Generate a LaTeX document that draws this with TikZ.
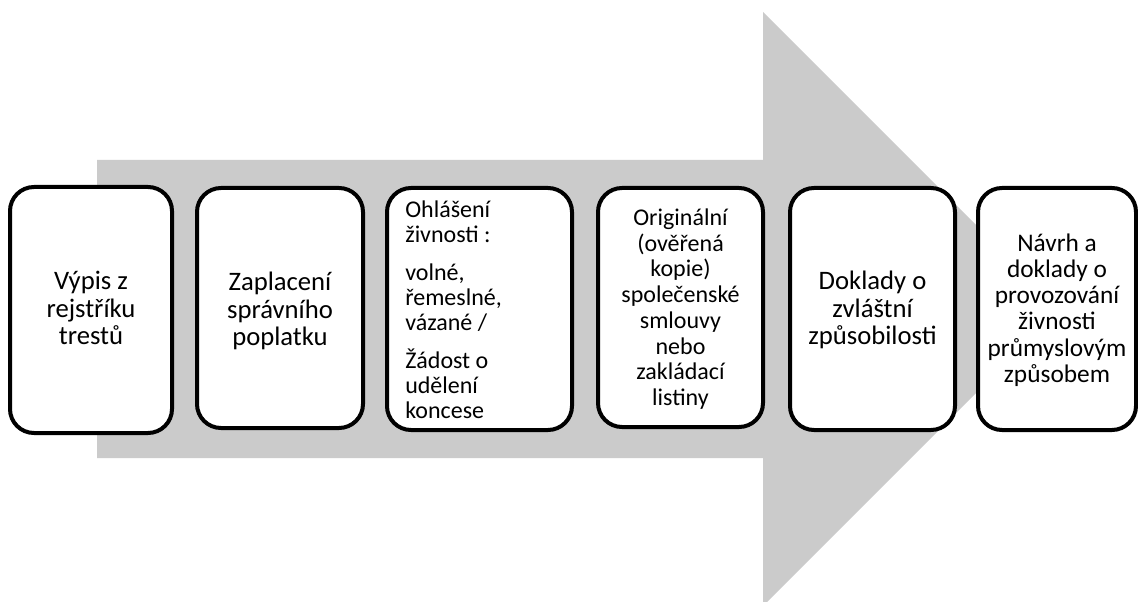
\documentclass[tikz,border=0pt]{standalone}
\usepackage{fontspec}
\setmainfont{Carlito}
\begin{document}
\begin{tikzpicture}[x=0.75pt,y=-0.75pt,
  box/.style={draw=black,line width=3pt,rounded corners=18pt,fill=white,inner sep=0pt},
  txt/.style={align=center,inner sep=0pt,font=\fontsize{20}{20.6}\selectfont},
  txtm/.style={align=center,inner sep=0pt,font=\fontsize{19}{19.7}\selectfont},
  txts/.style={align=center,inner sep=0pt,font=\fontsize{18}{19.3}\selectfont}]
\useasboundingbox (0,0) rectangle (1138,602);
\fill[fill={rgb,255:red,203;green,203;blue,203}] (97,160) -- (763,160) -- (763,12) -- (1060,309) -- (763,606) -- (763,458) -- (97,458) -- cycle;
\node[box,minimum width=162*0.75pt,minimum height=246*0.75pt] (b1) at (91,310) {};
\node[box,minimum width=166*0.75pt,minimum height=240*0.75pt] (b2) at (280,308) {};
\node[box,minimum width=185*0.75pt,minimum height=242*0.75pt] (b3) at (479.5,309) {};
\node[box,minimum width=165*0.75pt,minimum height=239*0.75pt] (b4) at (680.5,307.5) {};
\node[box,minimum width=165*0.75pt,minimum height=242*0.75pt] (b5) at (872.5,309) {};
\node[box,minimum width=158*0.75pt,minimum height=242*0.75pt] (b6) at (1057,309) {};
\node[txt] (t1) at (91,308) {Výpis z\\rejstříku\\trestů};
\node[txt] (t2) at (280,311) {Zaplacení\\správního\\poplatku};
\node[txts,align=left,anchor=west,font=\fontsize{18}{18.75}\selectfont] (t3) at (405,310) {Ohlášení\\živnosti :\\[9.75pt]volné,\\řemeslné,\\vázané /\\[9.75pt]Žádost o\\udělení\\koncese};
\node[txts] (t4) at (680.5,309) {Originální\\(ověřená\\kopie)\\společenské\\smlouvy\\nebo\\zakládací\\listiny};
\node[txt] (t5) at (872.5,310) {Doklady o\\zvláštní\\způsobilosti};
\node[txtm] (t6) at (1057,310) {Návrh a\\doklady o\\provozování\\živnosti\\průmyslovým\\způsobem};
\end{tikzpicture}
\end{document}
